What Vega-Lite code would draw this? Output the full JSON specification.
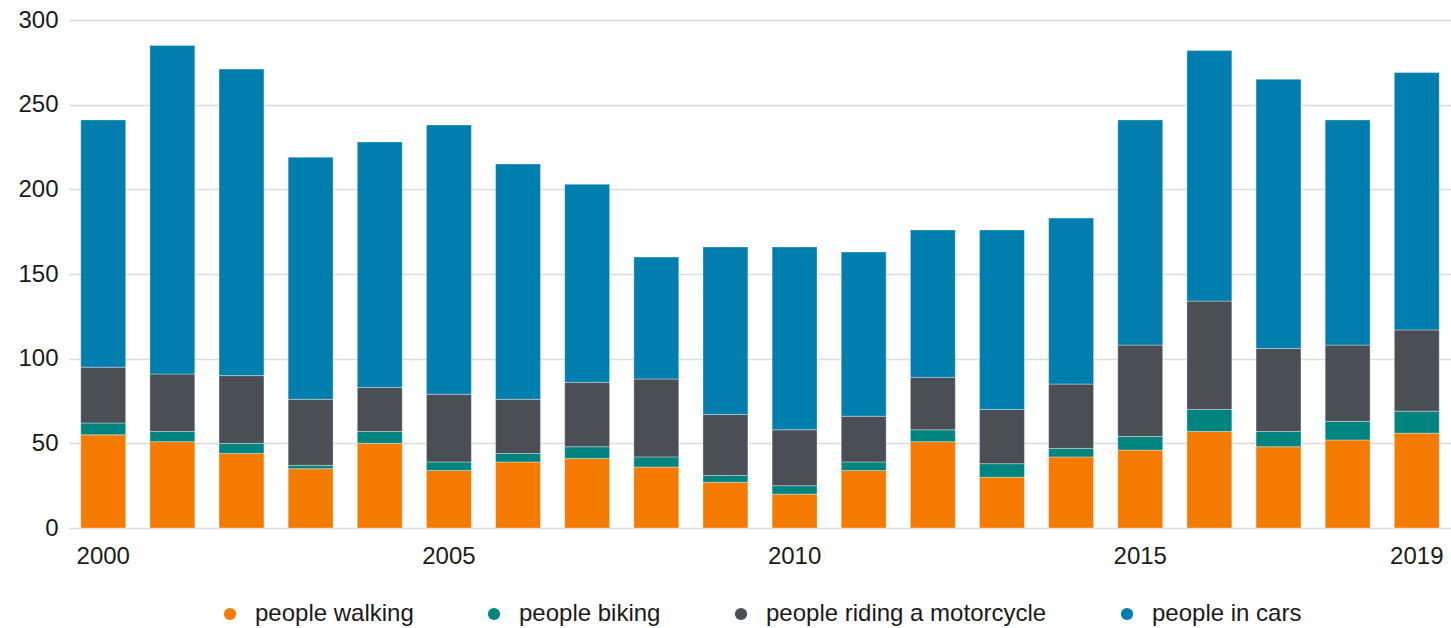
{
  "$schema": "https://vega.github.io/schema/vega-lite/v6.json",
  "width": 1382,
  "height": 508,
  "autosize": {"type": "none"},
  "padding": {"left": 69, "top": 20, "right": 0, "bottom": 100},
  "background": "white",
  "config": {
    "view": {"stroke": null},
    "font": "Liberation Sans",
    "axis": {"labelFont": "Liberation Sans", "labelColor": "#1a1a1a"},
    "legend": {"labelFont": "Liberation Sans", "layout": {"anchor": "middle"}}
  },
  "data": {"values": [
    {"year": 2000, "mode": "people walking", "k": 1, "value": 55},
    {"year": 2000, "mode": "people biking", "k": 2, "value": 7},
    {"year": 2000, "mode": "people riding a motorcycle", "k": 3, "value": 33},
    {"year": 2000, "mode": "people in cars", "k": 4, "value": 146},
    {"year": 2001, "mode": "people walking", "k": 1, "value": 51},
    {"year": 2001, "mode": "people biking", "k": 2, "value": 6},
    {"year": 2001, "mode": "people riding a motorcycle", "k": 3, "value": 34},
    {"year": 2001, "mode": "people in cars", "k": 4, "value": 194},
    {"year": 2002, "mode": "people walking", "k": 1, "value": 44},
    {"year": 2002, "mode": "people biking", "k": 2, "value": 6},
    {"year": 2002, "mode": "people riding a motorcycle", "k": 3, "value": 40},
    {"year": 2002, "mode": "people in cars", "k": 4, "value": 181},
    {"year": 2003, "mode": "people walking", "k": 1, "value": 35},
    {"year": 2003, "mode": "people biking", "k": 2, "value": 2},
    {"year": 2003, "mode": "people riding a motorcycle", "k": 3, "value": 39},
    {"year": 2003, "mode": "people in cars", "k": 4, "value": 143},
    {"year": 2004, "mode": "people walking", "k": 1, "value": 50},
    {"year": 2004, "mode": "people biking", "k": 2, "value": 7},
    {"year": 2004, "mode": "people riding a motorcycle", "k": 3, "value": 26},
    {"year": 2004, "mode": "people in cars", "k": 4, "value": 145},
    {"year": 2005, "mode": "people walking", "k": 1, "value": 34},
    {"year": 2005, "mode": "people biking", "k": 2, "value": 5},
    {"year": 2005, "mode": "people riding a motorcycle", "k": 3, "value": 40},
    {"year": 2005, "mode": "people in cars", "k": 4, "value": 159},
    {"year": 2006, "mode": "people walking", "k": 1, "value": 39},
    {"year": 2006, "mode": "people biking", "k": 2, "value": 5},
    {"year": 2006, "mode": "people riding a motorcycle", "k": 3, "value": 32},
    {"year": 2006, "mode": "people in cars", "k": 4, "value": 139},
    {"year": 2007, "mode": "people walking", "k": 1, "value": 41},
    {"year": 2007, "mode": "people biking", "k": 2, "value": 7},
    {"year": 2007, "mode": "people riding a motorcycle", "k": 3, "value": 38},
    {"year": 2007, "mode": "people in cars", "k": 4, "value": 117},
    {"year": 2008, "mode": "people walking", "k": 1, "value": 36},
    {"year": 2008, "mode": "people biking", "k": 2, "value": 6},
    {"year": 2008, "mode": "people riding a motorcycle", "k": 3, "value": 46},
    {"year": 2008, "mode": "people in cars", "k": 4, "value": 72},
    {"year": 2009, "mode": "people walking", "k": 1, "value": 27},
    {"year": 2009, "mode": "people biking", "k": 2, "value": 4},
    {"year": 2009, "mode": "people riding a motorcycle", "k": 3, "value": 36},
    {"year": 2009, "mode": "people in cars", "k": 4, "value": 99},
    {"year": 2010, "mode": "people walking", "k": 1, "value": 20},
    {"year": 2010, "mode": "people biking", "k": 2, "value": 5},
    {"year": 2010, "mode": "people riding a motorcycle", "k": 3, "value": 33},
    {"year": 2010, "mode": "people in cars", "k": 4, "value": 108},
    {"year": 2011, "mode": "people walking", "k": 1, "value": 34},
    {"year": 2011, "mode": "people biking", "k": 2, "value": 5},
    {"year": 2011, "mode": "people riding a motorcycle", "k": 3, "value": 27},
    {"year": 2011, "mode": "people in cars", "k": 4, "value": 97},
    {"year": 2012, "mode": "people walking", "k": 1, "value": 51},
    {"year": 2012, "mode": "people biking", "k": 2, "value": 7},
    {"year": 2012, "mode": "people riding a motorcycle", "k": 3, "value": 31},
    {"year": 2012, "mode": "people in cars", "k": 4, "value": 87},
    {"year": 2013, "mode": "people walking", "k": 1, "value": 30},
    {"year": 2013, "mode": "people biking", "k": 2, "value": 8},
    {"year": 2013, "mode": "people riding a motorcycle", "k": 3, "value": 32},
    {"year": 2013, "mode": "people in cars", "k": 4, "value": 106},
    {"year": 2014, "mode": "people walking", "k": 1, "value": 42},
    {"year": 2014, "mode": "people biking", "k": 2, "value": 5},
    {"year": 2014, "mode": "people riding a motorcycle", "k": 3, "value": 38},
    {"year": 2014, "mode": "people in cars", "k": 4, "value": 98},
    {"year": 2015, "mode": "people walking", "k": 1, "value": 46},
    {"year": 2015, "mode": "people biking", "k": 2, "value": 8},
    {"year": 2015, "mode": "people riding a motorcycle", "k": 3, "value": 54},
    {"year": 2015, "mode": "people in cars", "k": 4, "value": 133},
    {"year": 2016, "mode": "people walking", "k": 1, "value": 57},
    {"year": 2016, "mode": "people biking", "k": 2, "value": 13},
    {"year": 2016, "mode": "people riding a motorcycle", "k": 3, "value": 64},
    {"year": 2016, "mode": "people in cars", "k": 4, "value": 148},
    {"year": 2017, "mode": "people walking", "k": 1, "value": 48},
    {"year": 2017, "mode": "people biking", "k": 2, "value": 9},
    {"year": 2017, "mode": "people riding a motorcycle", "k": 3, "value": 49},
    {"year": 2017, "mode": "people in cars", "k": 4, "value": 159},
    {"year": 2018, "mode": "people walking", "k": 1, "value": 52},
    {"year": 2018, "mode": "people biking", "k": 2, "value": 11},
    {"year": 2018, "mode": "people riding a motorcycle", "k": 3, "value": 45},
    {"year": 2018, "mode": "people in cars", "k": 4, "value": 133},
    {"year": 2019, "mode": "people walking", "k": 1, "value": 56},
    {"year": 2019, "mode": "people biking", "k": 2, "value": 13},
    {"year": 2019, "mode": "people riding a motorcycle", "k": 3, "value": 48},
    {"year": 2019, "mode": "people in cars", "k": 4, "value": 152}
  ]},
  "mark": {"type": "bar", "stroke": "#ffffff", "strokeWidth": 1, "strokeOpacity": 0.35},
  "encoding": {
    "x": {
      "field": "year",
      "type": "ordinal",
      "scale": {"paddingInner": 0.35, "paddingOuter": 0.17},
      "axis": {
        "title": null,
        "values": [2000, 2005, 2010, 2015, 2019],
        "labelAngle": 0,
        "labelFontSize": 24,
        "labelPadding": 16,
        "ticks": false,
        "domain": false,
        "grid": false
      }
    },
    "y": {
      "field": "value",
      "type": "quantitative",
      "aggregate": "sum",
      "stack": "zero",
      "scale": {"domain": [0, 300], "nice": false},
      "axis": {
        "title": null,
        "values": [0, 50, 100, 150, 200, 250, 300],
        "labelFontSize": 24,
        "labelPadding": 11,
        "ticks": false,
        "domain": false,
        "grid": true,
        "gridColor": "#dcdcdc",
        "gridWidth": 1.5
      }
    },
    "color": {
      "field": "mode",
      "type": "nominal",
      "scale": {
        "domain": ["people walking", "people biking", "people riding a motorcycle", "people in cars"],
        "range": ["#f47b00", "#00847f", "#4a4e55", "#007eae"]
      },
      "legend": {
        "title": null,
        "orient": "bottom",
        "direction": "horizontal",
        "symbolType": "circle",
        "symbolSize": 150,
        "symbolStrokeWidth": 0,
        "labelFontSize": 24,
        "labelLimit": 0,
        "labelColor": "#1a1a1a",
        "labelOffset": 13,
        "columnPadding": 68,
        "offset": 34
      }
    },
    "order": {"field": "k", "type": "quantitative"}
  }
}
